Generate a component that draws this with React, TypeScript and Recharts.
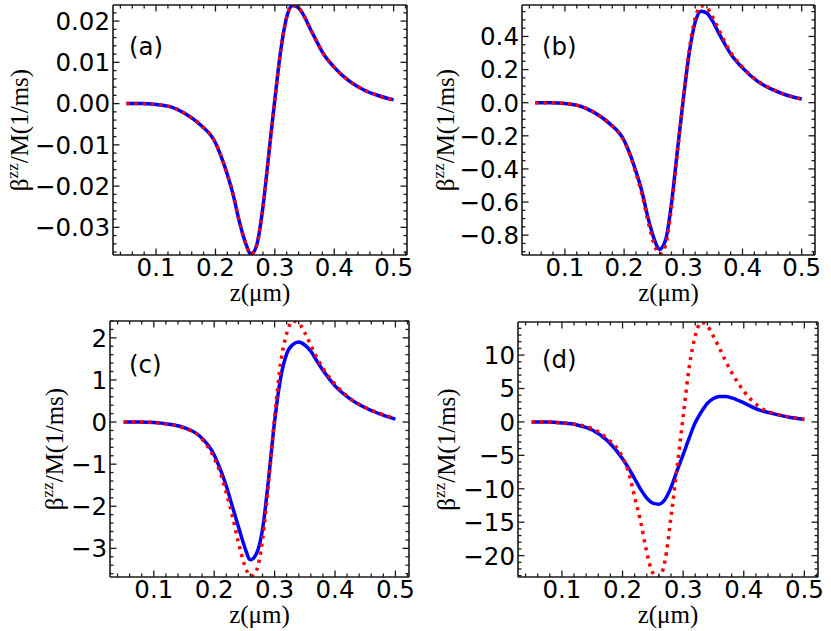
import { LineChart, Line, XAxis, YAxis } from "recharts";

// z grid (µm) shared by every panel
const Z = [
  0.05, 0.075, 0.1, 0.125, 0.15, 0.175, 0.2, 0.21, 0.22, 0.23, 0.24, 0.25, 0.26, 0.27, 0.28,
  0.29, 0.3, 0.31, 0.32, 0.33, 0.34, 0.35, 0.36, 0.37, 0.38, 0.4, 0.425, 0.45, 0.475, 0.5,
];

const A_BLUE = [
  0, 0, -0.0002, -0.0008, -0.0025, -0.0052, -0.0095, -0.013, -0.0172, -0.0222, -0.0285, -0.0335,
  -0.0365, -0.034, -0.025, -0.012, 0.001, 0.013, 0.021, 0.0238, 0.0232, 0.021, 0.018, 0.0152,
  0.0125, 0.0088, 0.0055, 0.0033, 0.0019, 0.0009,
];
const A_RED = [
  0, 0, -0.0002, -0.0008, -0.0025, -0.0052, -0.0095, -0.013, -0.0172, -0.0222, -0.0285, -0.0335,
  -0.0365, -0.034, -0.025, -0.012, 0.001, 0.013, 0.021, 0.0238, 0.0232, 0.021, 0.018, 0.0152,
  0.0125, 0.0088, 0.0055, 0.0033, 0.0019, 0.0009,
];

const B_BLUE = [
  0, 0, -0.005, -0.02, -0.06, -0.125, -0.228, -0.31, -0.415, -0.535, -0.69, -0.815, -0.885, -0.83,
  -0.61, -0.29, 0.02, 0.3, 0.485, 0.553, 0.54, 0.49, 0.42, 0.355, 0.295, 0.21, 0.13, 0.08, 0.045,
  0.022,
];
const B_RED = [
  0, 0, -0.005, -0.02, -0.06, -0.125, -0.232, -0.315, -0.425, -0.55, -0.71, -0.845, -0.915, -0.86,
  -0.635, -0.3, 0.02, 0.315, 0.51, 0.585, 0.572, 0.515, 0.44, 0.37, 0.305, 0.215, 0.133, 0.082,
  0.046, 0.022,
];

const C_BLUE = [
  0, 0, -0.01, -0.05, -0.13, -0.32, -0.78, -1.12, -1.52, -2.0, -2.48, -2.95, -3.27, -3.12, -2.55,
  -1.35, 0.02, 1.05, 1.62, 1.84, 1.9, 1.83, 1.68, 1.45, 1.23, 0.86, 0.55, 0.34, 0.19, 0.07,
];
const C_RED = [
  0, 0, -0.01, -0.05, -0.14, -0.33, -0.86, -1.2, -1.68, -2.22, -2.85, -3.38, -3.66, -3.52, -2.8,
  -1.45, 0.1, 1.4, 2.1, 2.4, 2.35, 2.12, 1.82, 1.53, 1.28, 0.9, 0.56, 0.35, 0.2, 0.08,
];

const D_BLUE = [
  0, -0.02, -0.15, -0.45, -1.2, -2.8, -5.5, -6.9, -8.5, -10.1, -11.4, -12.15, -12.3, -11.6, -9.8,
  -7.3, -4.9, -2.4, -0.1, 1.5, 2.8, 3.5, 3.82, 3.8, 3.6, 2.85, 1.8, 1.2, 0.7, 0.37,
];
const D_RED = [
  0, -0.02, -0.15, -0.4, -1.0, -2.5, -5.3, -7.6, -11.2, -15.0, -19.5, -22.6, -23.2, -20.8, -14.2,
  -6.8, 0.8, 8.2, 12.9, 14.9, 14.4, 12.8, 11.0, 9.1, 7.4, 4.6, 2.3, 1.25, 0.75, 0.4,
];

const X_MAJOR = [0.1, 0.2, 0.3, 0.4, 0.5];
const A_Y_MAJOR = [-0.03, -0.02, -0.01, 0, 0.01, 0.02];
const B_Y_MAJOR = [-0.8, -0.6, -0.4, -0.2, 0, 0.2, 0.4];
const C_Y_MAJOR = [-3, -2, -1, 0, 1, 2];
const D_Y_MAJOR = [-20, -15, -10, -5, 0, 5, 10];

const X_DOMAIN: [number, number] = [0.0275, 0.5225];
const X_MINOR_STEP = 0.02;

const FRAME = "#1a1a1a";
const TICK_FONT = "DejaVu Sans";
const LABEL_FONT = "Liberation Serif";
const tickText = { fontFamily: TICK_FONT, fontSize: 24.5 };
const labelText = { fontFamily: LABEL_FONT, fontSize: 25 };

type Side = "bottom" | "top" | "left" | "right";

// every minor position inside the domain (majors fall on it too)
function tickRange(lo: number, hi: number, step: number) {
  const out: number[] = [];
  const n0 = Math.ceil(lo / step - 1e-9);
  const n1 = Math.floor(hi / step + 1e-9);
  for (let n = n0; n <= n1; n++) out.push(+(n * step).toFixed(6));
  return out;
}

function fmt(v: number, digits: number) {
  const s = Math.abs(v) < 1e-9 ? (0).toFixed(digits) : v.toFixed(digits);
  return s.replace("-", "\u2212");
}

function makeTick(side: Side, majors: number[], step: number, digits: number, withText: boolean) {
  return (props: any) => {
    const { x, y, payload } = props;
    const v = payload.value as number;
    const major = majors.some((m) => Math.abs(m - v) < step * 0.1);
    const len = major ? 6.5 : 3.5;
    let x2 = x;
    let y2 = y;
    if (side === "bottom") y2 = y - len;
    if (side === "top") y2 = y + len;
    if (side === "left") x2 = x + len;
    if (side === "right") x2 = x - len;
    return (
      <g>
        <line x1={x} y1={y} x2={x2} y2={y2} stroke={FRAME} strokeWidth={1.3} />
        {withText && major && side === "bottom" && (
          <text x={x} y={y + 20.5} textAnchor="middle" fill="#000" style={tickText}>
            {fmt(v, digits)}
          </text>
        )}
        {withText && major && side === "left" && (
          <text x={x - 3} y={y + 8.9} textAnchor="end" fill="#000" style={tickText}>
            {fmt(v, digits)}
          </text>
        )}
      </g>
    );
  };
}

interface PanelSpec {
  tag: string;
  blue: number[];
  red: number[];
  yDomain: [number, number];
  yMajor: number[];
  yStep: number;
  yDigits: number;
  left: number;
  top: number;
  width: number;
  height: number;
  // distance from the chart edges to the plot frame
  frame: { top: number; right: number; bottom: number; left: number };
  yLabelGap: number;
  tagDx: number;
  tagDy: number;
}

const PANELS: PanelSpec[] = [
  {
    tag: "(a)", blue: A_BLUE, red: A_RED, yDomain: [-0.0367, 0.0239], yMajor: A_Y_MAJOR,
    yStep: 0.002, yDigits: 2, left: 0, top: 0, width: 415, height: 315,
    frame: { top: 5, right: 8, bottom: 60, left: 113 }, yLabelGap: 85, tagDx: 16, tagDy: 50,
  },
  {
    tag: "(b)", blue: B_BLUE, red: B_RED, yDomain: [-0.92, 0.59], yMajor: B_Y_MAJOR,
    yStep: 0.05, yDigits: 1, left: 415, top: 0, width: 416, height: 315,
    frame: { top: 5, right: 16, bottom: 60, left: 107 }, yLabelGap: 68, tagDx: 20, tagDy: 50,
  },
  {
    tag: "(c)", blue: C_BLUE, red: C_RED, yDomain: [-3.68, 2.4], yMajor: C_Y_MAJOR,
    yStep: 0.2, yDigits: 0, left: 0, top: 315, width: 415, height: 316,
    frame: { top: 6, right: 6, bottom: 54, left: 110 }, yLabelGap: 47, tagDx: 19, tagDy: 52,
  },
  {
    tag: "(d)", blue: D_BLUE, red: D_RED, yDomain: [-23.2, 14.95], yMajor: D_Y_MAJOR,
    yStep: 1, yDigits: 0, left: 415, top: 315, width: 416, height: 316,
    frame: { top: 7, right: 13, bottom: 54, left: 103 }, yLabelGap: 63, tagDx: 24, tagDy: 46,
  },
];

function Panel({ spec }: { spec: PanelSpec }) {
  const { frame, width, height } = spec;
  const plotW = width - frame.left - frame.right;
  const plotH = height - frame.top - frame.bottom;
  // each axis takes 1px (an axis of size 0 is not drawn)
  const margin = {
    top: frame.top - 1,
    right: frame.right - 1,
    bottom: frame.bottom - 1,
    left: frame.left - 1,
  };
  const rows = Z.map((z, i) => ({ z, blue: spec.blue[i], red: spec.red[i] }));
  const xTicks = tickRange(X_DOMAIN[0], X_DOMAIN[1], X_MINOR_STEP);
  const yTicks = tickRange(spec.yDomain[0], spec.yDomain[1], spec.yStep);
  const axisLine = { stroke: FRAME, strokeWidth: 1.6 };

  const xLabel = () => (
    <text
      x={frame.left + plotW / 2}
      y={frame.top + plotH + 46}
      textAnchor="middle"
      fill="#000"
      style={labelText}
    >
      z(μm)
    </text>
  );

  const yLabel = () => {
    const cx = frame.left - spec.yLabelGap;
    const cy = frame.top + plotH / 2;
    return (
      <text
        x={cx}
        y={cy}
        transform={`rotate(-90 ${cx} ${cy})`}
        textAnchor="middle"
        fill="#000"
        style={labelText}
      >
        β<tspan dy={-10} style={{ fontSize: 17 }}>zz</tspan>
        <tspan dy={10}>/M(1/ms)</tspan>
      </text>
    );
  };

  const tagLabel = () => (
    <text x={frame.left + spec.tagDx} y={frame.top + spec.tagDy} fill="#000" style={tickText}>
      {spec.tag}
    </text>
  );

  return (
    <div style={{ position: "absolute", left: spec.left, top: spec.top }}>
      <LineChart width={width} height={height} data={rows} margin={margin}>
        <XAxis
          xAxisId="b"
          dataKey="z"
          type="number"
          domain={X_DOMAIN}
          allowDataOverflow
          ticks={xTicks}
          interval={0}
          height={1}
          tickSize={0}
          tickMargin={0}
          tickLine={false}
          axisLine={axisLine}
          tick={makeTick("bottom", X_MAJOR, X_MINOR_STEP, 1, true)}
          label={{ content: xLabel }}
        />
        <XAxis
          xAxisId="t"
          orientation="top"
          dataKey="z"
          type="number"
          domain={X_DOMAIN}
          allowDataOverflow
          ticks={xTicks}
          interval={0}
          height={1}
          tickSize={0}
          tickMargin={0}
          tickLine={false}
          axisLine={axisLine}
          tick={makeTick("top", X_MAJOR, X_MINOR_STEP, 1, false)}
          label={{ content: tagLabel }}
        />
        <YAxis
          yAxisId="l"
          type="number"
          domain={spec.yDomain}
          allowDataOverflow
          ticks={yTicks}
          interval={0}
          width={1}
          tickSize={0}
          tickMargin={0}
          tickLine={false}
          axisLine={axisLine}
          tick={makeTick("left", spec.yMajor, spec.yStep, spec.yDigits, true)}
          label={{ content: yLabel }}
        />
        <YAxis
          yAxisId="r"
          orientation="right"
          type="number"
          domain={spec.yDomain}
          allowDataOverflow
          ticks={yTicks}
          interval={0}
          width={1}
          tickSize={0}
          tickMargin={0}
          tickLine={false}
          axisLine={axisLine}
          tick={makeTick("right", spec.yMajor, spec.yStep, spec.yDigits, false)}
        />
        <Line
          xAxisId="b"
          yAxisId="l"
          type="monotone"
          dataKey="blue"
          stroke="#0000ff"
          strokeWidth={3.5}
          dot={false}
          activeDot={false}
          isAnimationActive={false}
        />
        <Line
          xAxisId="b"
          yAxisId="l"
          type="monotone"
          dataKey="red"
          stroke="#ff0000"
          strokeWidth={3.5}
          strokeDasharray="3.2 5"
          dot={false}
          activeDot={false}
          isAnimationActive={false}
        />
      </LineChart>
    </div>
  );
}

export default function App() {
  return (
    <div
      style={{
        position: "absolute",
        left: 0,
        top: 0,
        width: 831,
        height: 631,
        background: "#fff",
        overflow: "hidden",
      }}
    >
      {PANELS.map((p) => (
        <Panel key={p.tag} spec={p} />
      ))}
    </div>
  );
}
